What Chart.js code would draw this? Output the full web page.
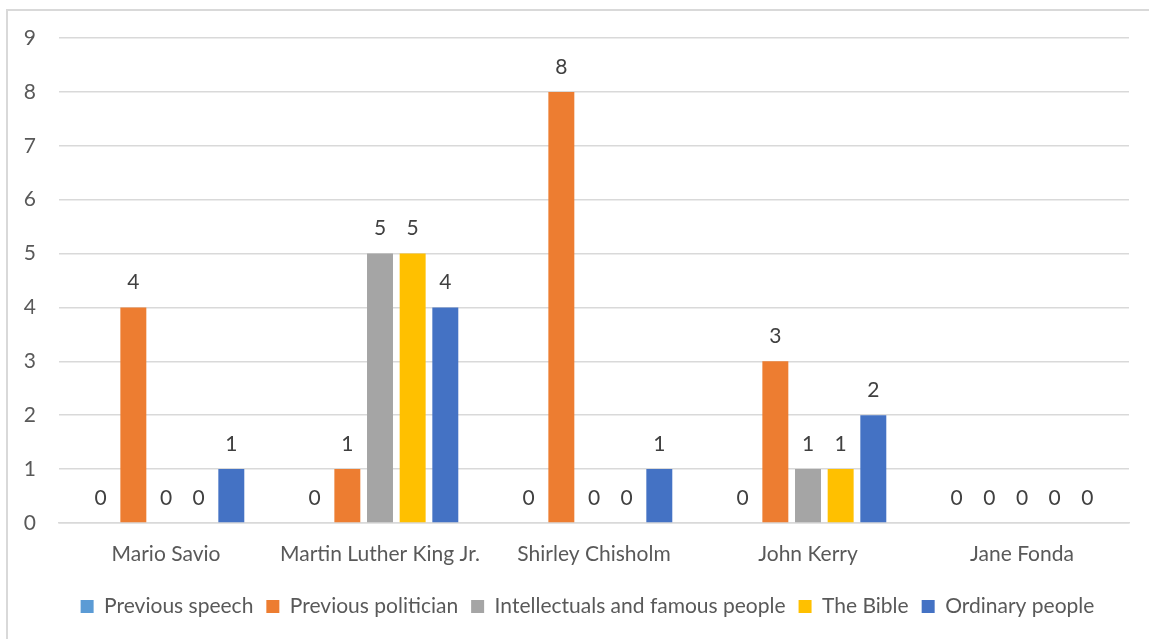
<!DOCTYPE html>
<html>
<head>
<meta charset="utf-8">
<script src="https://cdn.jsdelivr.net/npm/chart.js@4"></script>
<style>
  body { margin: 0; background: #fff; }
  #frame {
    position: absolute; left: 6px; top: 9px;
    width: 1160px; height: 660px;
    border: 2px solid #d9d9d9;
  }
  #wrap { position: absolute; left: 0; top: 0; width: 1149px; height: 639px; }
</style>
</head>
<body>
<div id="frame"></div>
<div id="wrap"><canvas id="speechChart" width="1149" height="639"></canvas></div>
<script>
const speakers = ['Mario Savio', 'Martin Luther King Jr.', 'Shirley Chisholm', 'John Kerry', 'Jane Fonda'];
const seriesNames = ['Previous speech', 'Previous politician', 'Intellectuals and famous people', 'The Bible', 'Ordinary people'];
const previousSpeech = [0, 0, 0, 0, 0];
const previousPolitician = [4, 1, 8, 3, 0];
const intellectuals = [0, 5, 0, 1, 0];
const theBible = [0, 5, 0, 1, 0];
const ordinaryPeople = [1, 4, 1, 2, 0];
const yTicks = [0, 1, 2, 3, 4, 5, 6, 7, 8, 9];

const seriesColors = ['#5B9BD5', '#ED7D31', '#A5A5A5', '#FFC000', '#4472C4'];
const seriesValues = [previousSpeech, previousPolitician, intellectuals, theBible, ordinaryPeople];

const FONT = 'Lato, "Open Sans", sans-serif';
const FONT_SIZE = 21;

// value labels sit above each bar, zeros included
const barLabels = {
  id: 'barLabels',
  afterDatasetsDraw(chart) {
    const ctx = chart.ctx;
    ctx.save();
    ctx.font = FONT_SIZE + 'px ' + FONT;
    ctx.fillStyle = '#404040';
    ctx.textAlign = 'center';
    ctx.textBaseline = 'middle';
    chart.data.datasets.forEach((ds, i) => {
      chart.getDatasetMeta(i).data.forEach((bar, j) => {
        ctx.fillText(String(ds.data[j]), bar.x, bar.y - 25);
      });
    });
    ctx.restore();
  }
};

// legend is centred on the whole frame, not just the plot width
const legendShift = {
  id: 'legendShift',
  afterLayout(chart) {
    chart.legend.left += 23;
    chart.legend.right += 23;
  }
};

const ctx = document.getElementById('speechChart').getContext('2d');
new Chart(ctx, {
  type: 'bar',
  data: {
    labels: speakers,
    datasets: seriesNames.map((name, i) => ({
      label: name,
      data: seriesValues[i],
      backgroundColor: seriesColors[i],
      categoryPercentage: 0.763,
      barPercentage: 0.795
    }))
  },
  options: {
    responsive: false,
    animation: false,
    layout: { padding: { top: 38, right: 20, left: 0, bottom: 12 } },
    plugins: {
      tooltip: { enabled: false },
      legend: {
        position: 'bottom',
        labels: {
          font: { family: FONT, size: FONT_SIZE },
          color: '#595959',
          boxWidth: 13,
          boxHeight: 13,
          padding: 13
        }
      }
    },
    scales: {
      y: {
        min: 0,
        max: 9,
        afterBuildTicks: axis => { axis.ticks = yTicks.map(v => ({ value: v })); },
        afterFit: axis => { axis.width = 59; },
        grid: { color: '#d9d9d9', lineWidth: 1.5, drawTicks: false },
        border: { display: false },
        ticks: { font: { family: FONT, size: FONT_SIZE }, color: '#595959', padding: 23 }
      },
      x: {
        afterFit: axis => { axis.height = 60; },
        grid: { display: false },
        border: { color: '#d9d9d9', width: 1.5 },
        ticks: { font: { family: FONT, size: FONT_SIZE }, color: '#595959', padding: 11 }
      }
    }
  },
  plugins: [barLabels, legendShift]
});
</script>
</body>
</html>
